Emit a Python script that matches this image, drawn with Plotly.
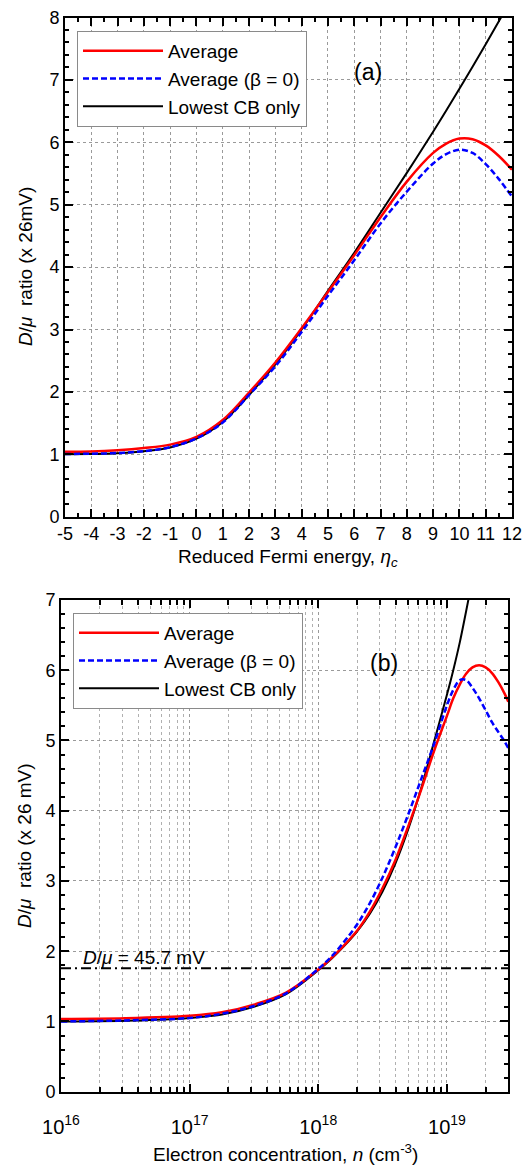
import plotly.graph_objects as go

# ---------------- data ----------------
# Panel (a): D/mu ratio (x 26 mV) versus reduced Fermi energy eta_c
eta_c = [-5, -4, -3, -2, -1, 0, 1, 2, 3, 4, 5, 6, 7, 8, 9, 9.5, 10, 10.5, 11, 11.5, 12]
avg_a = [1.04, 1.045, 1.065, 1.10, 1.155, 1.28, 1.55, 1.99, 2.47, 3.02, 3.60, 4.19, 4.80,
         5.37, 5.83, 5.98, 6.06, 6.05, 5.95, 5.78, 5.56]
avg_beta0_a = [1.005, 1.01, 1.02, 1.05, 1.115, 1.255, 1.51, 1.95, 2.41, 2.96, 3.54, 4.11, 4.70,
               5.21, 5.66, 5.81, 5.88, 5.83, 5.65, 5.41, 5.13]
lowest_cb_a = [1.0, 1.005, 1.015, 1.05, 1.11, 1.25, 1.52, 1.95, 2.44, 3.0, 3.62, 4.23, 4.87,
               5.51, 6.17, 6.51, 6.86, 7.21, 7.57, 7.94, 8.3]

# Panel (b): D/mu ratio (x 26 mV) versus electron concentration n (cm^-3)
n_conc = [1e16, 3.16e16, 1e17, 1.78e17, 3.16e17, 5.62e17, 1e18, 1.26e18, 1.58e18, 2e18,
          2.51e18, 3.16e18, 3.98e18, 5.01e18, 6.31e18, 7.94e18, 1e19, 1.12e19, 1.26e19,
          1.41e19, 1.58e19, 1.78e19, 2e19, 2.24e19, 2.51e19, 2.82e19, 3e19]
avg_b = [1.035, 1.045, 1.08, 1.13, 1.24, 1.41, 1.74, 1.90, 2.08, 2.29, 2.56, 2.90, 3.30,
         3.78, 4.30, 4.85, 5.35, 5.60, 5.80, 5.95, 6.04, 6.07, 6.04, 5.96, 5.83, 5.66, 5.55]
avg_beta0_b = [1.0, 1.015, 1.05, 1.11, 1.22, 1.40, 1.75, 1.92, 2.13, 2.38, 2.68, 3.05, 3.48,
               3.95, 4.45, 4.95, 5.50, 5.72, 5.86, 5.86, 5.75, 5.60, 5.43, 5.26, 5.12, 4.98, 4.89]
n_lowest = [1e16, 3.16e16, 1e17, 1.78e17, 3.16e17, 5.62e17, 1e18, 1.26e18, 1.58e18, 2e18,
            2.51e18, 3.16e18, 3.98e18, 5.01e18, 6.31e18, 7.94e18, 1e19, 1.12e19, 1.26e19,
            1.41e19, 1.58e19]
lowest_cb_b = [1.0, 1.01, 1.05, 1.10, 1.21, 1.39, 1.73, 1.89, 2.07, 2.28, 2.53, 2.85, 3.25,
               3.74, 4.32, 4.98, 5.65, 6.0, 6.40, 6.84, 7.30]

threshold_mV = 45.7
thermal_mV = 26.0
n_range = [1e16, 3e19]

x_ticks_a = list(range(-5, 13))
x_ticklabels_a = [str(v) for v in x_ticks_a]
y_ticks_a = list(range(0, 9))
y_ticks_b = list(range(0, 8))
decades_b = [1e16, 1e17, 1e18, 1e19]
decade_labels_b = ["10<sup>16</sup>", "10<sup>17</sup>", "10<sup>18</sup>", "10<sup>19</sup>"]
minor_b = [k * d for d in decades_b for k in range(2, 10) if k * d <= 3e19]

# ---------------- figure ----------------
W, H = 527, 1167
FONT = "Liberation Sans, Arial, sans-serif"
RED, BLUE, BLACK = "#ff0000", "#0000ff", "#000000"

fig = go.Figure()

# panel (a)
fig.add_trace(go.Scatter(x=eta_c, y=lowest_cb_a, mode="lines", name="Lowest CB only",
                         line=dict(color=BLACK, width=2, shape="spline"),
                         legend="legend", legendrank=3, xaxis="x", yaxis="y"))
fig.add_trace(go.Scatter(x=eta_c, y=avg_a, mode="lines", name="Average",
                         line=dict(color=RED, width=2.5, shape="spline"),
                         legend="legend", legendrank=1, xaxis="x", yaxis="y"))
fig.add_trace(go.Scatter(x=eta_c, y=avg_beta0_a, mode="lines", name="Average (β = 0)",
                         line=dict(color=BLUE, width=2.5, dash="6px,3px", shape="spline"),
                         legend="legend", legendrank=2, xaxis="x", yaxis="y"))

# panel (b)
fig.add_trace(go.Scatter(x=n_range, y=[threshold_mV / thermal_mV] * 2, mode="lines",
                         showlegend=False,
                         line=dict(color=BLACK, width=1.8, dash="10px,4px,2px,4px"),
                         xaxis="x2", yaxis="y2"))
fig.add_trace(go.Scatter(x=n_lowest, y=lowest_cb_b, mode="lines", name="Lowest CB only",
                         line=dict(color=BLACK, width=2, shape="spline"),
                         legend="legend2", legendrank=3, xaxis="x2", yaxis="y2"))
fig.add_trace(go.Scatter(x=n_conc, y=avg_b, mode="lines", name="Average",
                         line=dict(color=RED, width=2.5, shape="spline"),
                         legend="legend2", legendrank=1, xaxis="x2", yaxis="y2"))
fig.add_trace(go.Scatter(x=n_conc, y=avg_beta0_b, mode="lines", name="Average (β = 0)",
                         line=dict(color=BLUE, width=2.5, dash="6px,3px", shape="spline"),
                         legend="legend2", legendrank=2, xaxis="x2", yaxis="y2"))

# plot-area pixel boxes
top_box = dict(l=65, r=512, t=17.5, b=516.7)
bot_box = dict(l=61, r=508.3, t=600, b=1091.7)


def xdom(b):
    return [b["l"] / W, b["r"] / W]


def ydom(b):
    return [1 - b["b"] / H, 1 - b["t"] / H]


axis_common = dict(
    showline=True, linecolor=BLACK, linewidth=2, mirror="ticks",
    ticks="inside", ticklen=8, tickwidth=1.5, tickcolor=BLACK,
    showgrid=True, gridcolor="#9a9a9a", gridwidth=1, griddash="dot",
    zeroline=False, automargin=False,
    tickfont=dict(family=FONT, size=18, color=BLACK),
)

legend_common = dict(xanchor="left", yanchor="top", bgcolor="white",
                     bordercolor="#8a8a8a", borderwidth=1,
                     font=dict(family=FONT, size=19, color=BLACK), itemwidth=80,
                     tracegroupgap=0)

fig.update_layout(
    width=W, height=H,
    margin=dict(l=0, r=0, t=0, b=0, autoexpand=False),
    paper_bgcolor="white", plot_bgcolor="white",
    font=dict(family=FONT, size=18, color=BLACK),
    xaxis=dict(domain=xdom(top_box), range=[-5, 12], tickmode="array", tickvals=x_ticks_a,
               ticktext=x_ticklabels_a, anchor="y", ticklabelstandoff=0,
               minor=dict(dtick=0.5, tick0=-5, ticks="inside", ticklen=4, tickwidth=1.5,
                          tickcolor=BLACK, showgrid=False),
               **axis_common),
    yaxis=dict(domain=ydom(top_box), range=[0, 8], tickmode="array", tickvals=y_ticks_a,
               anchor="x",
               minor=dict(dtick=0.2, tick0=0, ticks="inside", ticklen=4, tickwidth=1.5,
                          tickcolor=BLACK, showgrid=False),
               **axis_common),
    xaxis2=dict(domain=xdom(bot_box), type="log", range=[16, 19.4771], tickmode="array",
                tickvals=decades_b, ticktext=decade_labels_b, anchor="y2",
                ticklabelstandoff=16,
                minor=dict(tickmode="array", tickvals=minor_b, ticks="inside", ticklen=5,
                           tickwidth=1.5, tickcolor=BLACK, showgrid=True,
                           gridcolor="#b0b0b0", gridwidth=1, griddash="dot"),
                **{**axis_common, "tickfont": dict(family=FONT, size=20, color=BLACK)}),
    yaxis2=dict(domain=ydom(bot_box), range=[0, 7], tickmode="array", tickvals=y_ticks_b,
                anchor="x2",
                minor=dict(dtick=0.2, tick0=0, ticks="inside", ticklen=4, tickwidth=1.5,
                           tickcolor=BLACK, showgrid=False),
                **axis_common),
    legend=dict(x=77 / W, y=1 - 31 / H, **legend_common),
    legend2=dict(x=73 / W, y=1 - 613 / H, **legend_common),
)


def px_ann(text, x, y, size=19, xanchor="center", yanchor="middle", angle=0):
    fig.add_annotation(text=text, xref="paper", yref="paper", x=x / W, y=1 - y / H,
                       showarrow=False, xanchor=xanchor, yanchor=yanchor, textangle=angle,
                       font=dict(family=FONT, size=size, color=BLACK))


px_ann("(a)", 368, 72, size=23)
px_ann("(b)", 384, 663, size=23)
px_ann("Reduced Fermi energy, <i>η<sub>c</sub></i>", 288, 558)
px_ann("Electron concentration, <i>n</i> (cm<sup>-3</sup>)", 285, 1153)
px_ann("<i>D</i>/<i>μ</i>  ratio (x 26mV)", 25, 267, angle=-90)
px_ann("<i>D</i>/<i>μ</i>  ratio (x 26 mV)", 25, 846, angle=-90)
px_ann("<i>D</i>/<i>μ</i> = 45.7 mV", 81, 957, xanchor="left")

fig.write_html("out.html")
